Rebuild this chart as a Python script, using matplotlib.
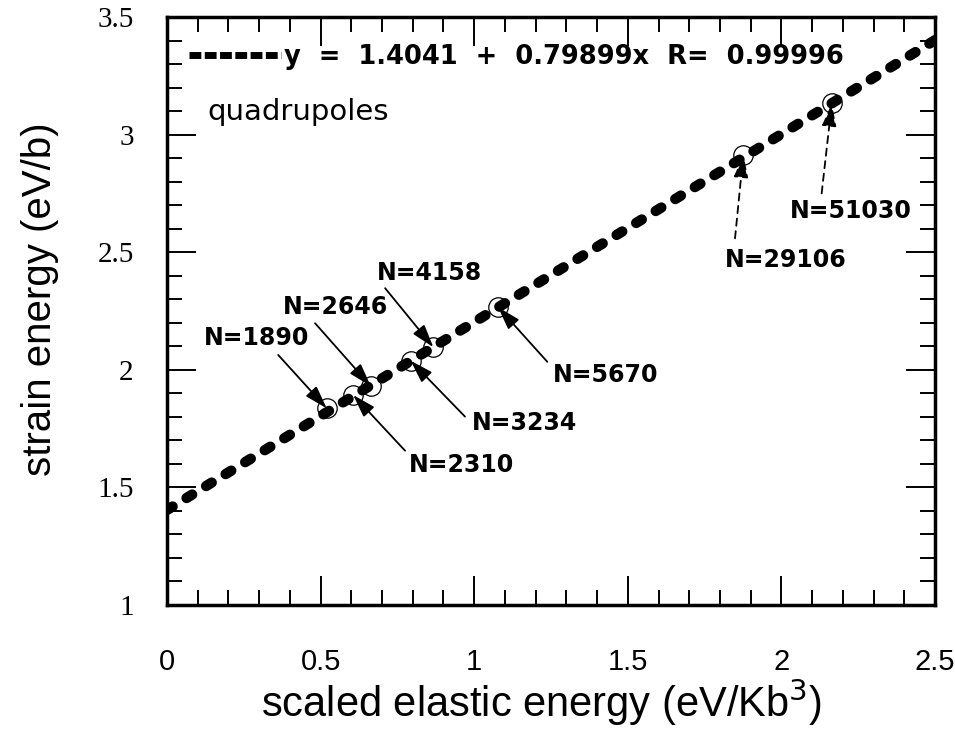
import numpy as np
import matplotlib
matplotlib.use("Agg")
import matplotlib.pyplot as plt
from matplotlib.lines import Line2D
from matplotlib.ticker import MultipleLocator

# linear fit shown in the legend
FIT_INTERCEPT = 1.4041
FIT_SLOPE = 0.79899
FIT_R = 0.99996
FIT_X = [0.0, 2.5]

# quadrupole data points (N = number of atoms)
N_LABELS = ["N=1890", "N=2310", "N=2646", "N=3234", "N=4158", "N=5670", "N=29106", "N=51030"]
SCALED_ELASTIC = [0.520, 0.606, 0.663, 0.793, 0.867, 1.078, 1.876, 2.164]
STRAIN_ENERGY = [1.836, 1.893, 1.931, 2.039, 2.096, 2.266, 2.915, 3.133]

# label placement: text centre, arrow tail, dashed shaft or not
LABEL_POS = [(0.290, 2.135), (0.960, 1.595), (0.547, 2.267), (1.165, 1.774),
             (0.853, 2.412), (1.429, 1.978), (2.015, 2.467), (2.227, 2.675)]
ARROW_TAIL = [(0.362, 2.063), (0.775, 1.656), (0.482, 2.198), (0.970, 1.801),
              (0.710, 2.347), (1.238, 2.034), (1.849, 2.559), (2.131, 2.750)]
ARROW_DASHED = [False, False, False, False, False, False, True, True]

SANS = "DejaVu Sans"

fig = plt.figure(figsize=(9.55, 7.35), dpi=100)
ax = fig.add_axes([167 / 955, 1 - 605 / 735, 768 / 955, 588 / 735])

# fit line, thick blobby dashes
fit_y = [FIT_INTERCEPT + FIT_SLOPE * v for v in FIT_X]
ax.plot(FIT_X, fit_y, color="black", lw=7.5, dashes=(0.63, 1.57),
        dash_capstyle="round", zorder=3)

# open circles for each data point
ax.plot(SCALED_ELASTIC, STRAIN_ENERGY, "o", ms=14, mfc="none", mec="black",
        mew=0.9, zorder=2)

arrow_kw = dict(arrowstyle="-|>,head_length=0.7,head_width=0.22", color="black",
                lw=1.3, shrinkA=0, shrinkB=0, mutation_scale=20)
for i, lab in enumerate(N_LABELS):
    props = dict(arrow_kw)
    if ARROW_DASHED[i]:
        props["linestyle"] = (0, (4, 3))
    ax.annotate("", xy=(SCALED_ELASTIC[i], STRAIN_ENERGY[i]),
                xytext=ARROW_TAIL[i], arrowprops=props, zorder=4)
    ax.text(LABEL_POS[i][0], LABEL_POS[i][1], lab, ha="center", va="center",
            fontsize=17, fontweight="bold", family=SANS, zorder=5)

ax.text(0.133, 3.096, "quadrupoles", ha="left", va="center", fontsize=21,
        family=SANS)

# legend with its own thinner dash sample
handle = Line2D([], [], color="black", lw=5, dashes=(1.7, 0.5), dash_capstyle="butt")
leg_text = f"y  =  {FIT_INTERCEPT}  +  {FIT_SLOPE}x  R=  {FIT_R}"
ax.legend([handle], [leg_text], loc="center left", bbox_to_anchor=(0.028, 0.932),
          frameon=False, borderpad=0, borderaxespad=0, handlelength=3.6,
          handletextpad=0.1, prop=dict(family=SANS, weight="bold", size=18.5))

ax.set_xlim(0, 2.5)
ax.set_ylim(1, 3.5)
ax.xaxis.set_major_locator(MultipleLocator(0.5))
ax.xaxis.set_minor_locator(MultipleLocator(0.1))
ax.yaxis.set_major_locator(MultipleLocator(0.5))
ax.yaxis.set_minor_locator(MultipleLocator(0.1))
ax.xaxis.set_major_formatter(lambda v, p: f"{v:g}")
ax.yaxis.set_major_formatter(lambda v, p: f"{v:g}")

for s in ax.spines.values():
    s.set_linewidth(2.5)
ax.tick_params(which="both", direction="in", top=True, right=True, width=1.4)
ax.tick_params(which="major", length=21)
ax.tick_params(which="minor", length=11)
ax.tick_params(axis="x", which="major", pad=31, labelsize=21)
ax.tick_params(axis="y", which="major", pad=24, labelsize=21)
for t in ax.get_xticklabels():
    t.set_family("Liberation Sans")
for t in ax.get_yticklabels():
    t.set_family("Liberation Serif")

ax.set_xlabel("scaled elastic energy (eV/Kb$^3$)", fontsize=30, family="Liberation Sans")
ax.set_ylabel("strain energy (eV/b)", fontsize=29, family="Liberation Sans")
ax.xaxis.set_label_coords(0.488, -0.122)
ax.yaxis.set_label_coords(-0.14, 0.52)

fig.savefig("out.png", dpi=100, facecolor="white")
